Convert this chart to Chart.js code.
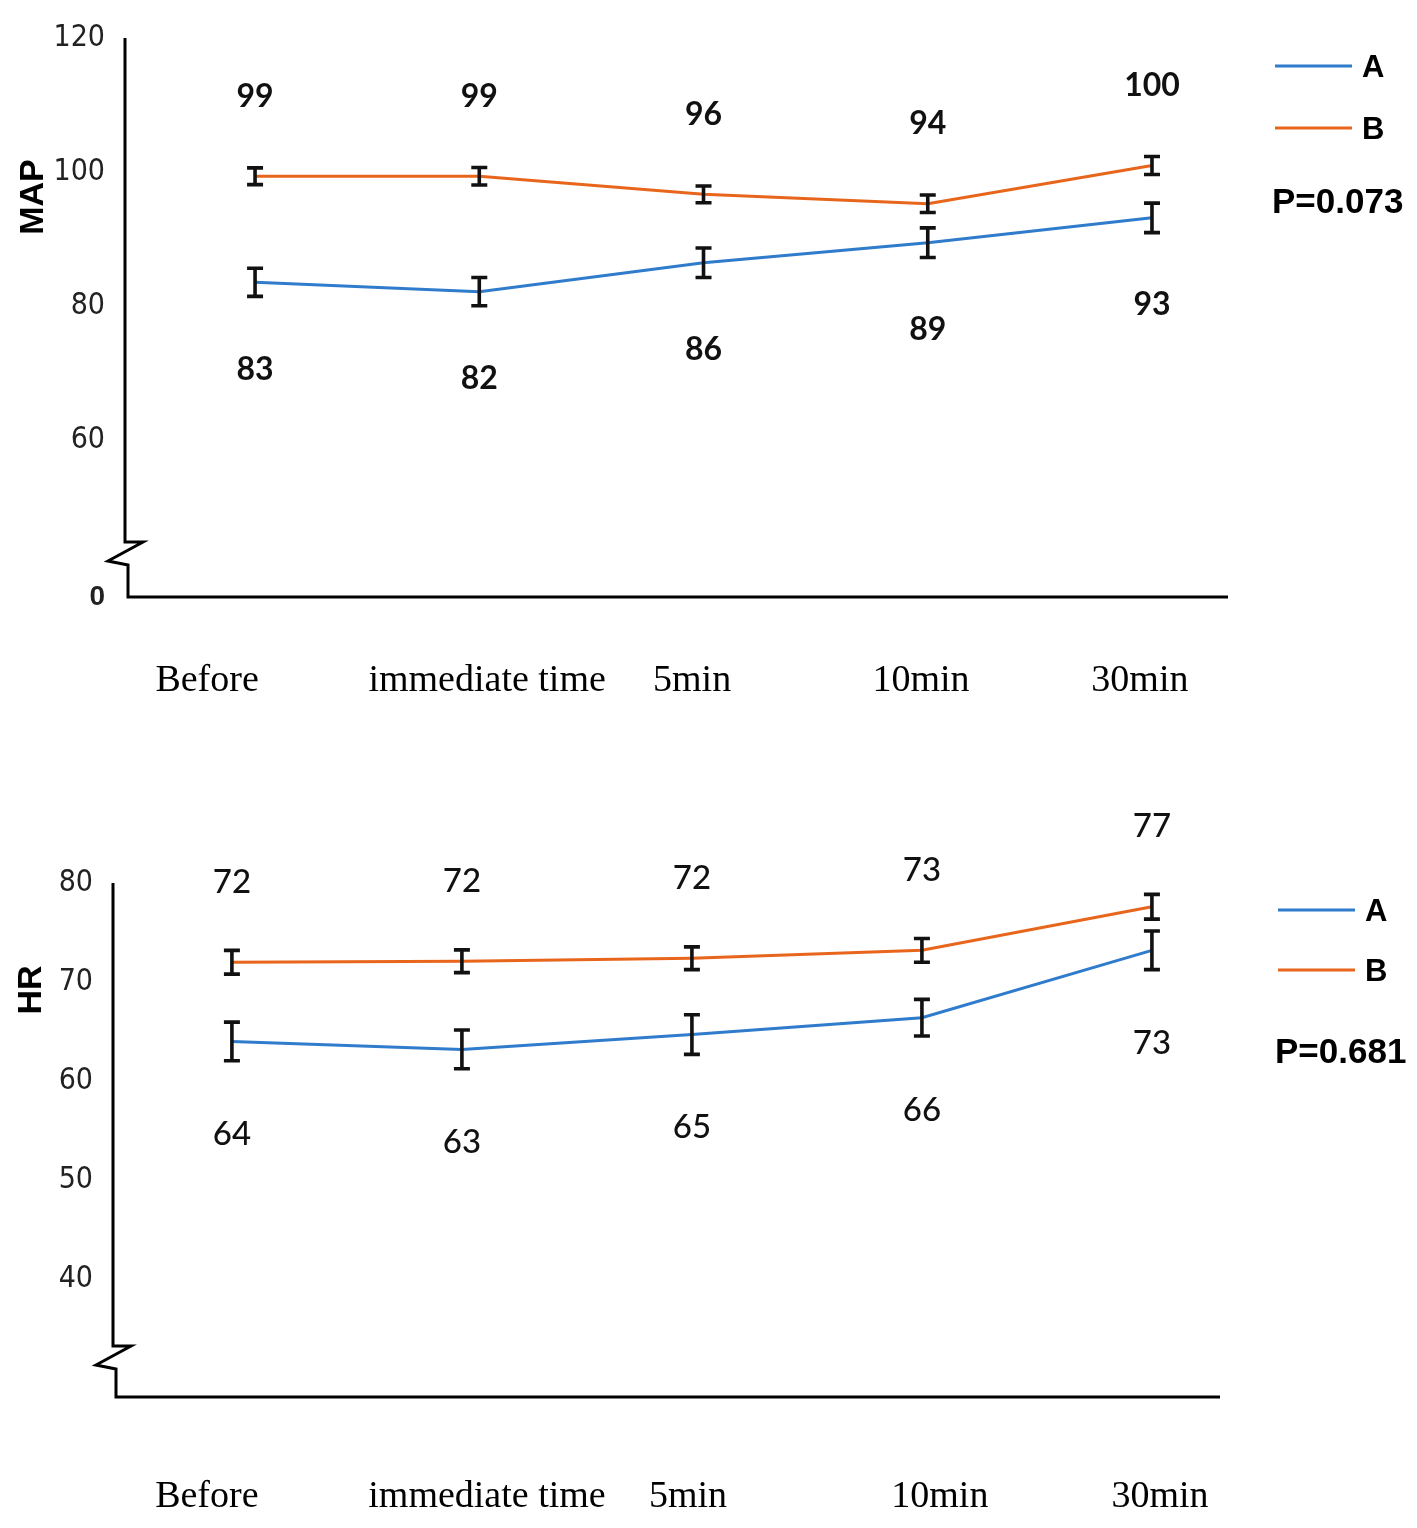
<!DOCTYPE html>
<html><head><meta charset="utf-8">
<script src="https://cdn.jsdelivr.net/npm/chart.js@4.4.1/dist/chart.umd.min.js"></script>
<style>
html,body{margin:0;padding:0;background:#fff;}
#wrap{position:relative;width:1417px;height:1528px;background:#fff;}
canvas{position:absolute;left:0;}
</style></head><body>
<div id="wrap">
<canvas id="mapChart" width="1417" height="740" style="top:0;width:1417px;height:740px"></canvas>
<canvas id="hrChart" width="1417" height="768" style="top:760px;width:1417px;height:768px"></canvas>
</div>
<script>
// ---------- data ----------
const categories = ['Before', 'immediate time', '5min', '10min', '30min'];
const seriesNames = ['A', 'B'];

// MAP panel
const mapA = [83.6, 82.2, 86.5, 89.5, 93.2];
const mapB = [99.4, 99.4, 96.7, 95.3, 101.0];
const mapErrA = [2.1, 2.1, 2.2, 2.2, 2.2];
const mapErrB = [1.25, 1.3, 1.25, 1.3, 1.35];
const mapLabelsA = ['83', '82', '86', '89', '93'];
const mapLabelsB = ['99', '99', '96', '94', '100'];
const mapTicks = [60, 80, 100, 120];
const mapP = 'P=0.073';

// HR panel
const hrA = [64.0, 63.2, 64.7, 66.4, 73.2];
const hrB = [72.0, 72.1, 72.4, 73.2, 77.6];
const hrErrA = [1.95, 1.95, 2.0, 1.85, 1.95];
const hrErrB = [1.2, 1.15, 1.15, 1.2, 1.25];
const hrLabelsA = ['64', '63', '65', '66', '73'];
const hrLabelsB = ['72', '72', '72', '73', '77'];
const hrTicks = [40, 50, 60, 70, 80];
const hrP = 'P=0.681';

// ---------- styling ----------
const BLUE = '#2f7bcc';
const ORANGE = '#e8661c';
const SANS = '"Liberation Sans", Arial, sans-serif';
const NARROW = '"Liberation Sans Narrow", "DejaVu Sans Condensed", "Liberation Sans", sans-serif';
const LABELF = 'Lato, "Open Sans", sans-serif';
const SERIF = '"Liberation Serif", "Times New Roman", serif';

const decorPlugin = {
  id: 'decor',
  beforeDatasetsDraw(chart, args, o) {
    const ctx = chart.ctx, ca = chart.chartArea;
    ctx.save();
    ctx.strokeStyle = '#000';
    ctx.lineWidth = 3;
    ctx.lineJoin = 'miter';
    const L = ca.left, B = ca.bottom;
    const bTop = B - o.breakTop, bBot = B - o.breakBot;
    ctx.beginPath();
    ctx.moveTo(L, ca.top);
    ctx.lineTo(L, bTop);
    ctx.lineTo(L + 18, bTop);
    ctx.lineTo(L - 17, bBot - 4);
    ctx.lineTo(L + 3, bBot);
    ctx.lineTo(L + 3, B);
    ctx.lineTo(ca.right, B);
    ctx.stroke();
    ctx.restore();
  },
  afterDatasetsDraw(chart, args, o) {
    const ctx = chart.ctx, xs = chart.scales.x, ys = chart.scales.y;
    ctx.save();
    // error bars
    chart.data.datasets.forEach((ds, di) => {
      const errs = o.errors[di];
      ds.data.forEach((p, i) => {
        const x = xs.getPixelForValue(p.x);
        const y1 = ys.getPixelForValue(p.y + errs[i]);
        const y2 = ys.getPixelForValue(p.y - errs[i]);
        ctx.strokeStyle = '#111';
        ctx.lineWidth = 3.6;
        ctx.beginPath();
        ctx.moveTo(x, y1); ctx.lineTo(x, y2);
        ctx.moveTo(x - 8, y1); ctx.lineTo(x + 8, y1);
        ctx.moveTo(x - 8, y2); ctx.lineTo(x + 8, y2);
        ctx.stroke();
      });
    });
    // value labels
    ctx.fillStyle = '#111';
    ctx.textAlign = 'center';
    ctx.textBaseline = 'middle';
    ctx.font = o.labelFont;
    chart.data.datasets.forEach((ds, di) => {
      const labels = o.valueLabels[di];
      ds.data.forEach((p, i) => {
        const x = xs.getPixelForValue(p.x);
        const y = ys.getPixelForValue(p.y);
        ctx.fillText(labels[i], x, y + o.labelOffset[di]);
      });
    });
    // axis title
    ctx.save();
    ctx.translate(o.titlePos[0], o.titlePos[1]);
    ctx.rotate(-Math.PI / 2);
    ctx.font = 'bold 34px ' + SANS;
    ctx.fillStyle = '#000';
    ctx.fillText(o.title, 0, 0);
    ctx.restore();
    // legend
    const lg = o.legend;
    chart.data.datasets.forEach((ds, di) => {
      const y = lg.y[di];
      ctx.strokeStyle = ds.borderColor;
      ctx.lineWidth = 3;
      ctx.beginPath();
      ctx.moveTo(lg.x, y); ctx.lineTo(lg.x + 77, y);
      ctx.stroke();
      ctx.fillStyle = '#000';
      ctx.font = 'bold 31px ' + SANS;
      ctx.textAlign = 'left';
      ctx.fillText(ds.label, lg.x + 87, y + 2);
    });
    ctx.font = 'bold 35px ' + SANS;
    ctx.textAlign = 'left';
    ctx.fillText(o.pText, lg.x - 3, lg.pY);
    ctx.restore();
  }
};

function makeChart(id, cfg) {
  const toPts = arr => arr.map((v, i) => ({ x: i, y: v }));
  return new Chart(document.getElementById(id), {
    type: 'line',
    data: {
      datasets: [
        { label: seriesNames[0], data: toPts(cfg.a), borderColor: BLUE, backgroundColor: BLUE, borderWidth: 3, pointRadius: 0, tension: 0 },
        { label: seriesNames[1], data: toPts(cfg.b), borderColor: ORANGE, backgroundColor: ORANGE, borderWidth: 3, pointRadius: 0, tension: 0 }
      ]
    },
    options: {
      responsive: false,
      animation: false,
      events: [],
      layout: { padding: cfg.padding },
      plugins: {
        legend: { display: false },
        tooltip: { enabled: false },
        decor: {
          errors: [cfg.errA, cfg.errB],
          valueLabels: [cfg.labelsA, cfg.labelsB],
          labelOffset: cfg.labelOffset,
          labelFont: cfg.labelFont,
          title: cfg.title,
          titlePos: cfg.titlePos,
          legend: cfg.legend,
          pText: cfg.pText,
          breakTop: cfg.breakTop,
          breakBot: cfg.breakBot
        }
      },
      scales: {
        x: {
          type: 'linear',
          min: cfg.xMin, max: cfg.xMax,
          grid: { display: false, drawTicks: false },
          border: { display: false },
          afterFit: s => { s.height = cfg.xHeight; },
          afterBuildTicks: s => { s.ticks = cfg.xLabelPos.map(v => ({ value: v })); },
          ticks: {
            autoSkip: false, maxRotation: 0, minRotation: 0,
            padding: cfg.xPad,
            color: '#000',
            font: { family: SERIF, size: 38 },
            callback: (v, i) => categories[i]
          }
        },
        y: {
          min: cfg.yMin, max: cfg.yMax,
          grid: { display: false, drawTicks: false },
          border: { display: false },
          afterFit: s => { s.width = cfg.yWidth; },
          afterBuildTicks: s => { s.ticks = cfg.yTicks.map(v => ({ value: v })); },
          ticks: {
            padding: cfg.yPad,
            color: '#222',
            font: ctx => (ctx.tick && ctx.tick.label === '0')
              ? { family: SANS, size: 28, weight: 'bold' }
              : { family: NARROW, size: 30 },
            callback: v => (v === cfg.yMin && cfg.zeroLabel) ? '0' : String(v)
          }
        }
      }
    },
    plugins: [decorPlugin]
  });
}

const mapYMin = 36.7;
makeChart('mapChart', {
  a: mapA, b: mapB, errA: mapErrA, errB: mapErrB,
  labelsA: mapLabelsA, labelsB: mapLabelsB,
  labelOffset: [87, -80],
  labelFont: 'bold 32px ' + LABELF,
  title: 'MAP', titlePos: [34, 197],
  legend: { x: 1275, y: [66, 128], pY: 203 },
  pText: mapP,
  padding: { left: 0, right: 189, top: 35, bottom: 0 },
  xMin: -0.58, xMax: 4.339,
  xLabelPos: [-0.214, 1.035, 1.949, 2.970, 3.946],
  xHeight: 143, xPad: 61,
  yMin: mapYMin, yMax: 120, yTicks: [mapYMin].concat(mapTicks), zeroLabel: true,
  yWidth: 125, yPad: 20,
  breakTop: 55, breakBot: 32
});

makeChart('hrChart', {
  a: hrA, b: hrB, errA: hrErrA, errB: hrErrB,
  labelsA: hrLabelsA, labelsB: hrLabelsB,
  labelOffset: [93, -80],
  labelFont: '500 33px ' + LABELF,
  title: 'HR', titlePos: [32, 990 - 760],
  legend: { x: 1278, y: [150, 210], pY: 293 },
  pText: hrP,
  padding: { left: 0, right: 197, top: 123, bottom: 0 },
  xMin: -0.517, xMax: 4.296,
  xLabelPos: [-0.109, 1.109, 1.983, 3.078, 4.035],
  xHeight: 131, xPad: 77,
  yMin: 28.1, yMax: 80, yTicks: hrTicks, zeroLabel: false,
  yWidth: 113, yPad: 20,
  breakTop: 51, breakBot: 28
});
</script>
</body></html>
